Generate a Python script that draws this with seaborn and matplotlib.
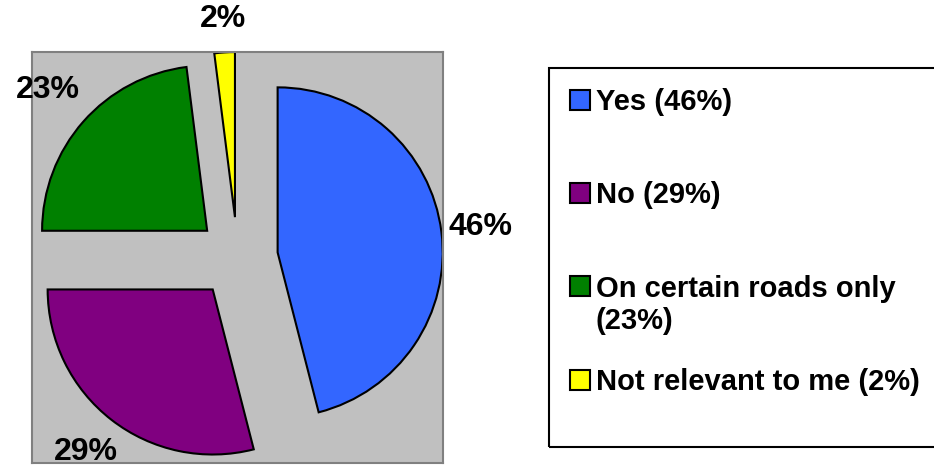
import matplotlib
matplotlib.use("Agg")
import matplotlib.pyplot as plt
import matplotlib.patches as mpatches
from matplotlib.transforms import IdentityTransform
import numpy as np
import seaborn as sns

# Data
categories = ["Yes", "No", "On certain roads only", "Not relevant to me"]
shares = [46, 29, 23, 2]
colors = ["#3366FF", "#800080", "#008000", "#FFFF00"]

sns.set_style("white")
plt.rcParams["font.family"] = ["Liberation Sans", "DejaVu Sans"]
plt.rcParams["font.weight"] = "bold"
plt.rcParams["text.color"] = "black"

W, H = 934, 468
fig = plt.figure(figsize=(W / 100, H / 100), dpi=100)
fig.patch.set_facecolor("white")

# Plot area (grey box) in pixel geometry
ax = fig.add_axes([32 / W, 5 / H, 411 / W, 411 / H])

explode = 0.245
palette = sns.color_palette(colors)
wedges, _ = ax.pie(
    shares,
    colors=palette,
    explode=[explode] * len(shares),
    startangle=90,
    counterclock=False,
    wedgeprops=dict(edgecolor="black", linewidth=1.5),
)

# pie() switches the frame off; bring the grey plot area back
ax.set_frame_on(True)
ax.set_facecolor("#C0C0C0")
for s in ax.spines.values():
    s.set_visible(True)
    s.set_color("#808080")
    s.set_linewidth(1.5)

# percentage labels placed outward from each wedge
label_dist = [1.24, 1.25, 1.29, 1.2]
for w, v, d in zip(wedges, shares, label_dist):
    mid = np.deg2rad((w.theta1 + w.theta2) / 2)
    cx, cy = w.center
    ax.text(cx + d * w.r * np.cos(mid), cy + d * w.r * np.sin(mid), f"{v}%",
            ha="center", va="center", fontsize=23, fontweight="bold",
            color="black", clip_on=False)

R = 1 + explode
ax.set_xlim(-R, R)
ax.set_ylim(-R, R)
ax.set_xticks([])
ax.set_yticks([])

# Legend frame drawn as a figure patch (right edge runs off the image)
frame = mpatches.Rectangle((549 / W, (H - 447) / H), 420 / W, (447 - 68) / H,
                           transform=fig.transFigure, fill=False,
                           edgecolor="black", linewidth=1.5)
fig.patches.append(frame)

handles = [mpatches.Patch(facecolor=c, edgecolor="black", linewidth=1.5) for c in colors]
leg_labels = [f"{c} ({v}%)" for c, v in zip(categories, shares)]
leg_labels[2] = categories[2]
leg = fig.legend(
    handles, leg_labels,
    loc="upper left",
    bbox_to_anchor=(570 / W, 1 - 88 / H),
    frameon=False,
    borderpad=0, borderaxespad=0,
    handlelength=0.68, handleheight=0.68,
    handletextpad=0.2,
    labelspacing=2.24,
    prop=dict(size=21, weight="bold"),
)
for t in leg.get_texts():
    t.set_color("black")

# Second line of the wrapped legend label
fig.canvas.draw()
bb = leg.get_texts()[2].get_window_extent()
fig.text(bb.x0, bb.y0 - 4, f"({shares[2]}%)", transform=IdentityTransform(),
         ha="left", va="top", fontsize=21, fontweight="bold", color="black")

fig.savefig("out.png", dpi=100, facecolor="white")
